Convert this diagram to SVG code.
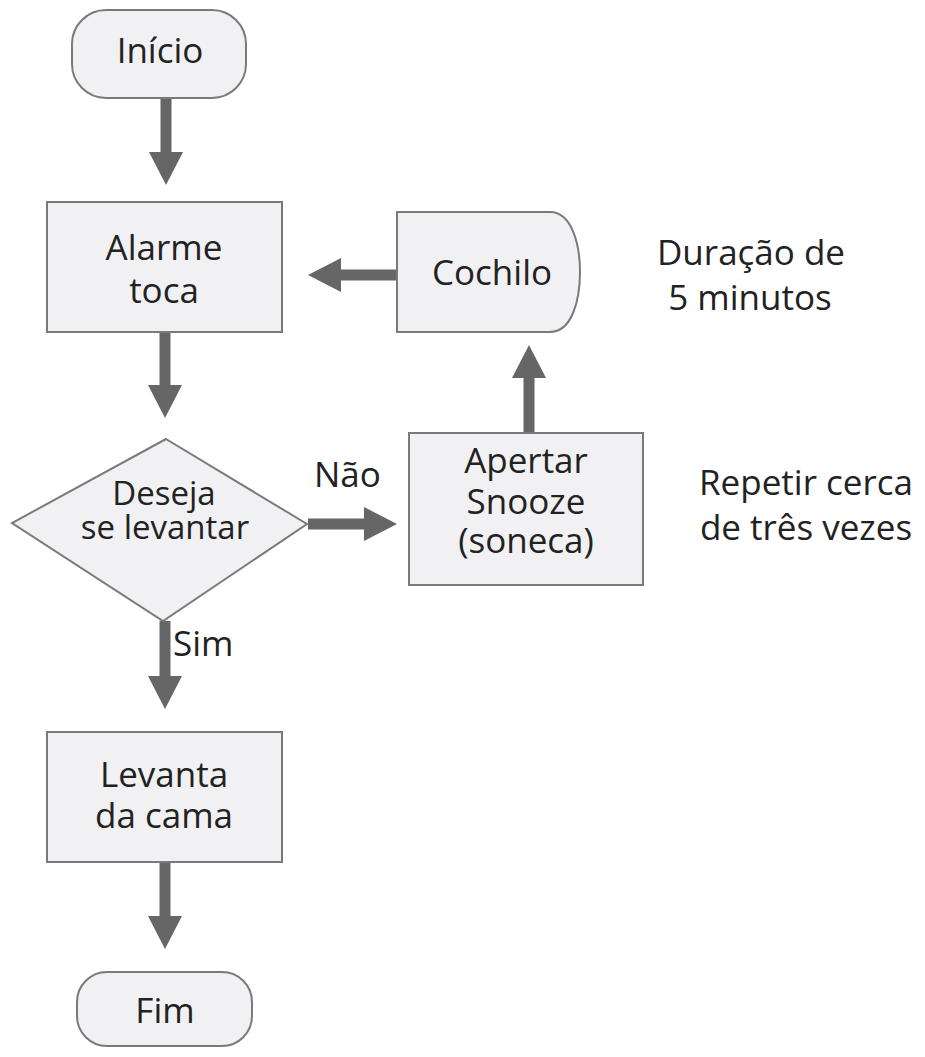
<svg xmlns="http://www.w3.org/2000/svg" width="925" height="1057" viewBox="0 0 925 1057">
<style>
.node{fill:#f1f1f3;stroke:#7a7a7a;stroke-width:2}
.t{font-family:"Open Sans","Liberation Sans",sans-serif;font-size:35px;fill:#222;text-anchor:middle}
.d{font-size:33px}
.s{font-family:"Open Sans","Liberation Sans",sans-serif;font-size:35px;fill:#222;text-anchor:middle}
.l{font-family:"Open Sans","Liberation Sans",sans-serif;font-size:35px;fill:#222}
.c{stroke:#666;stroke-width:11;fill:none}
</style>
<defs>
<marker id="ah" markerUnits="userSpaceOnUse" markerWidth="34" markerHeight="34" refX="0" refY="17" orient="auto" viewBox="0 0 34 34">
<path d="M0,0 L33,17 L0,34 Z" fill="#666"/>
</marker>
</defs>
<rect width="925" height="1057" fill="#fff"/>
<g id="connectors">
<line class="c" x1="166" y1="98" x2="166" y2="152" marker-end="url(#ah)"/>
<line class="c" x1="165" y1="332" x2="165" y2="385" marker-end="url(#ah)"/>
<line class="c" x1="308" y1="524" x2="364" y2="524" marker-end="url(#ah)"/>
<line class="c" x1="529" y1="433" x2="529" y2="378" marker-end="url(#ah)"/>
<line class="c" x1="397" y1="275" x2="341" y2="275" marker-end="url(#ah)"/>
<line class="c" x1="165" y1="621" x2="165" y2="676" marker-end="url(#ah)"/>
<line class="c" x1="165" y1="862" x2="165" y2="916" marker-end="url(#ah)"/>
<text class="l" x="314" y="487">Não</text>
<text class="l" x="173" y="656">Sim</text>
</g>
<g id="inicio">
<rect class="node" x="72" y="10" width="174" height="88" rx="34"/>
<text class="t" x="160" y="63">Início</text>
</g>
<g id="alarme">
<rect class="node" x="47" y="202" width="235" height="130"/>
<text class="t" x="164" y="260">Alarme</text>
<text class="t" x="164" y="303">toca</text>
</g>
<g id="cochilo">
<path class="node" d="M397,212 H550 C572,212 580,245 580,272 C580,300 572,332 550,332 H397 Z"/>
<text class="t" x="492" y="285">Cochilo</text>
</g>
<g id="deseja">
<path class="node" d="M166,439 L307,524 L163,621 L12,523 Z"/>
<text class="t d" x="164" y="505">Deseja</text>
<text class="t d" x="165" y="539">se levantar</text>
</g>
<g id="apertar">
<rect class="node" x="409" y="433" width="234" height="152"/>
<text class="t" x="526" y="473">Apertar</text>
<text class="t" x="526" y="514">Snooze</text>
<text class="t" x="526" y="553">(soneca)</text>
</g>
<g id="levanta">
<rect class="node" x="47" y="732" width="235" height="130"/>
<text class="t" x="164" y="787">Levanta</text>
<text class="t" x="164" y="828">da cama</text>
</g>
<g id="fim">
<rect class="node" x="77" y="972" width="175" height="74" rx="30"/>
<text class="t" x="165" y="1023">Fim</text>
</g>
<g id="notes">
<text class="s" x="751" y="265">Duração de</text>
<text class="s" x="750" y="310">5 minutos</text>
<text class="s" x="806" y="495">Repetir cerca</text>
<text class="s" x="806" y="540">de três vezes</text>
</g>
</svg>
